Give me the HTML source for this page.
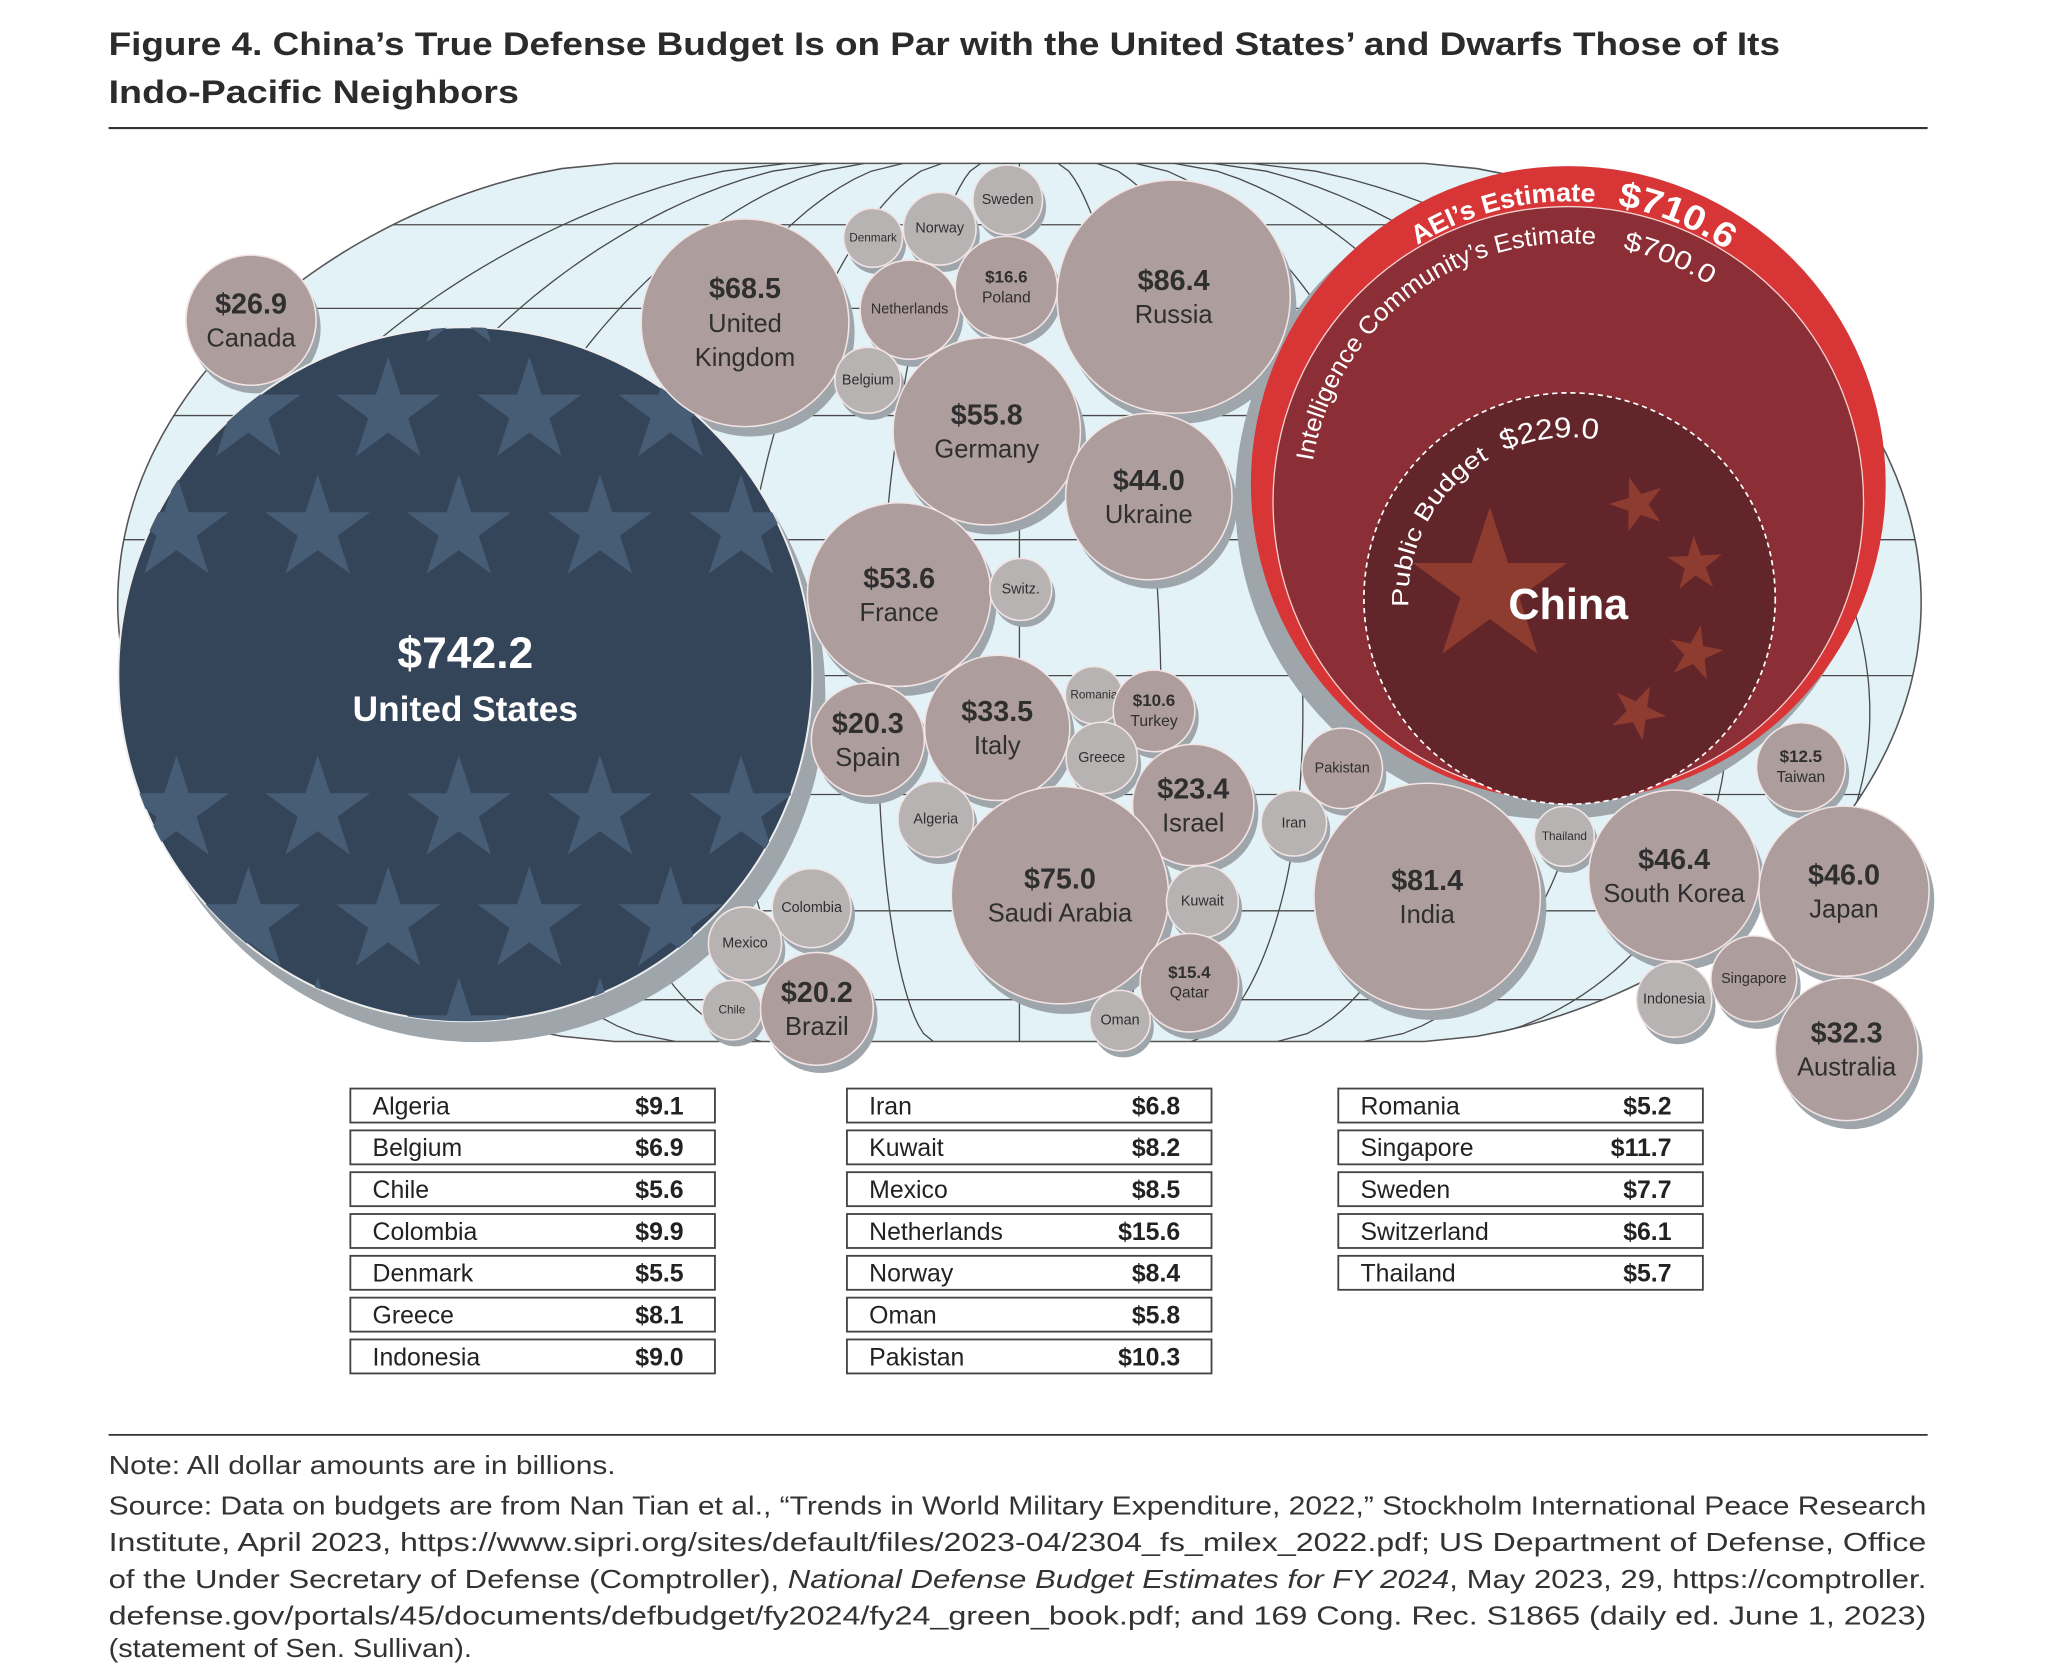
<!DOCTYPE html>
<html><head><meta charset="utf-8"><style>
html,body{margin:0;padding:0;background:#fff;}
svg{display:block;font-family:"Liberation Sans",sans-serif;}
</style></head><body>
<svg id="chart" width="2048" height="1674" viewBox="0 0 1567 1281" xmlns="http://www.w3.org/2000/svg">
<defs>
<clipPath id="mapClip"><path id="mapShapeClip" d=""/></clipPath>
<clipPath id="usClip"><circle id="usClipCircle" cx="0" cy="0" r="0"/></clipPath>
</defs>
<g fill="#2b2b2b" font-weight="bold" font-size="25">
<text x="83" y="42" textLength="1279" lengthAdjust="spacingAndGlyphs">Figure 4. China’s True Defense Budget Is on Par with the United States’ and Dwarfs Those of Its</text>
<text x="83" y="79" textLength="314" lengthAdjust="spacingAndGlyphs">Indo-Pacific Neighbors</text>
</g>
<line x1="83" y1="98" x2="1475" y2="98" stroke="#333" stroke-width="1.6"/>
<g id="map"></g>
<g id="shadows"></g>
<g id="china"></g>
<g id="us"></g>
<g id="bubbles"></g>
<g id="tables"></g>
<line x1="83" y1="1098" x2="1475" y2="1098" stroke="#333" stroke-width="1.4"/>
<g fill="#333" font-size="19.5">
<text x="83" y="1128" textLength="388" lengthAdjust="spacingAndGlyphs">Note: All dollar amounts are in billions.</text>
<text x="83" y="1159" textLength="1391" lengthAdjust="spacingAndGlyphs">Source: Data on budgets are from Nan Tian et al., “Trends in World Military Expenditure, 2022,” Stockholm International Peace Research</text>
<text x="83" y="1187" textLength="1391" lengthAdjust="spacingAndGlyphs">Institute, April 2023, https://www.sipri.org/sites/default/files/2023-04/2304_fs_milex_2022.pdf; US Department of Defense, Office</text>
<text x="83" y="1215" textLength="1391" lengthAdjust="spacingAndGlyphs">of the Under Secretary of Defense (Comptroller), <tspan font-style="italic">National Defense Budget Estimates for FY 2024</tspan>, May 2023, 29, https://comptroller.</text>
<text x="83" y="1243" textLength="1391" lengthAdjust="spacingAndGlyphs">defense.gov/portals/45/documents/defbudget/fy2024/fy24_green_book.pdf; and 169 Cong. Rec. S1865 (daily ed. June 1, 2023)</text>
<text x="83" y="1268" textLength="278" lengthAdjust="spacingAndGlyphs">(statement of Sen. Sullivan).</text>
</g>
</svg>
<script>
// ---- data ----
const countryNames = ["Canada","United Kingdom","Denmark","Norway","Sweden","Netherlands","Poland","Belgium","Russia","Germany","Ukraine","France","Switz.","Spain","Italy","Romania","Turkey","Greece","Algeria","Israel","Saudi Arabia","Kuwait","Qatar","Oman","Iran","Pakistan","India","Thailand","South Korea","Japan","Taiwan","Indonesia","Singapore","Australia","Colombia","Mexico","Chile","Brazil"];
const countryValues = [26.9,68.5,5.5,8.4,7.7,15.6,16.6,6.9,86.4,55.8,44.0,53.6,6.1,20.3,33.5,5.2,10.6,8.1,9.1,23.4,75.0,8.2,15.4,5.8,6.8,10.3,81.4,5.7,46.4,46.0,12.5,9.0,11.7,32.3,9.9,8.5,5.6,20.2];
const showValue = [1,1,0,0,0,0,1,0,1,1,1,1,0,1,1,0,1,0,0,1,1,0,1,0,0,0,1,0,1,1,1,0,0,1,0,0,0,1];
const usValue = 742.2;
const chinaAEI = 710.6;
const chinaIC = 700.0;
const chinaPublic = 229.0;
const tableCol1 = [["Algeria","$9.1"],["Belgium","$6.9"],["Chile","$5.6"],["Colombia","$9.9"],["Denmark","$5.5"],["Greece","$8.1"],["Indonesia","$9.0"]];
const tableCol2 = [["Iran","$6.8"],["Kuwait","$8.2"],["Mexico","$8.5"],["Netherlands","$15.6"],["Norway","$8.4"],["Oman","$5.8"],["Pakistan","$10.3"]];
const tableCol3 = [["Romania","$5.2"],["Singapore","$11.7"],["Sweden","$7.7"],["Switzerland","$6.1"],["Thailand","$5.7"]];
// ---- layout (bubble centres) ----
const layoutCenters = [[192,245],[570,247],[668,182],[719,175],[771,153],[696,237],[770,220],[664,291],[898,227],[755,330],[879,380],[688,455],[781,451],[664,566],[763,557],[837,532],[883,544],[843,580],[716,627],[913,616],[811,685],[920,690],[910,752],[857,781],[990,630],[1027,588],[1092,686],[1197,640],[1281,670],[1411,682],[1378,587],[1281,765],[1342,749],[1413,803],[621,695],[570,722],[560,773],[625,772]];
const NS="http://www.w3.org/2000/svg";
const K=9.6;
function rScale(v){return K*Math.sqrt(v);}
function mk(tag,attrs,parent){const e=document.createElementNS(NS,tag);for(const k in attrs)e.setAttribute(k,attrs[k]);if(parent)parent.appendChild(e);return e;}

// ---- map ----
const map=document.getElementById('map');
const mcx=780, mTop=125, mBot=797, mMid=(mTop+mBot)/2, mH=(mBot-mTop)/2;
function hw(y){const t=(y-mMid)/mH;return 310+380*Math.pow(Math.max(0,1-t*t),0.6);}
const pts=[];
for(let y=mTop;y<=mBot;y+=4)pts.push([mcx+hw(y),y]);
for(let y=mBot;y>=mTop;y-=4)pts.push([mcx-hw(y),y]);
const d="M"+pts.map(p=>p[0].toFixed(1)+","+p[1].toFixed(1)).join("L")+"Z";
document.getElementById('mapShapeClip').setAttribute('d',d);
const bg=mk('path',{d:d,fill:"#e2f2f7",stroke:"#555","stroke-width":1.2},map);


const grid=mk('g',{"clip-path":"url(#mapClip)",stroke:"#4a4a4a","stroke-width":1,fill:"none"},map);


[172,236,318,413,517,608,697,765].forEach(y=>{mk('line',{x1:0,x2:1552,y1:y,y2:y},grid);});
for(let k=-6;k<=6;k++){
  const u=k/6.5;let p="";
  for(let y=mTop;y<=mBot;y+=6){const sh=(y-mMid)*0.35*u;p+=(y===mTop?"M":"L")+(mcx+u*hw(y)+sh).toFixed(1)+","+y;}
  mk('path',{d:p},grid);
}

// ---- shadows & bubbles ----
const shadows=document.getElementById('shadows');
const bubbles=document.getElementById('bubbles');
function shadow(cx,cy,r){mk('circle',{cx:cx+0.03*r+2,cy:cy+0.045*r+4,r:r,fill:"#9ea6ac"},shadows);}
countryNames.forEach((n,i)=>{
  const v=countryValues[i],r=rScale(v),c=layoutCenters[i];
  shadow(c[0],c[1],r);
  const g=mk('g',{},bubbles);
  
  
  mk('circle',{cx:c[0],cy:c[1],r:r,fill:(v>=10?"#ad9d9c":"#b7b3b3"),stroke:"#f2e4e4","stroke-width":1.2},g);
  const big=r>=40;
  if(showValue[i]){
    const vs=big?22:13, ns=big?19.5:12;
    const t1=mk('text',{x:c[0],y:c[1]+(big?-12:-8),"text-anchor":"middle","dominant-baseline":"central","font-size":vs,"font-weight":"bold",fill:"#2f2f2f"},g);
    t1.textContent="$"+v.toFixed(1);
    if(n==="United Kingdom"){
      const a=mk('text',{x:c[0],y:c[1]+1,"text-anchor":"middle","dominant-baseline":"central","font-size":ns,fill:"#2f2f2f"},g);a.textContent="United";
      const b=mk('text',{x:c[0],y:c[1]+27,"text-anchor":"middle","dominant-baseline":"central","font-size":ns,fill:"#2f2f2f"},g);b.textContent="Kingdom";
      t1.setAttribute('y',c[1]-26);
    } else {
      const t2=mk('text',{x:c[0],y:c[1]+(big?14:8),"text-anchor":"middle","dominant-baseline":"central","font-size":ns,fill:"#2f2f2f"},g);
      t2.textContent=n;
    }
  } else {
    const t=mk('text',{x:c[0],y:c[1],"text-anchor":"middle","dominant-baseline":"central","font-size":(r<23?9:11),fill:"#2f2f2f"},g);
    t.textContent=n;
  }
});

function starPath(cx,cy,R,rot){const ri=R*0.382;let p="";for(let i=0;i<10;i++){const a=(rot||0)-Math.PI/2+i*Math.PI/5;const rr=i%2?ri:R;p+=(i?"L":"M")+(cx+rr*Math.cos(a)).toFixed(1)+","+(cy+rr*Math.sin(a)).toFixed(1);}return p+"Z";}

// ---- US ----
const us=document.getElementById('us');
const usR=rScale(usValue)+4, usC=[356,516];
shadow(usC[0],usC[1],usR);
document.getElementById('usClipCircle').setAttribute('cx',usC[0]);
document.getElementById('usClipCircle').setAttribute('cy',usC[1]);
document.getElementById('usClipCircle').setAttribute('r',usR);
const usCircle=mk('circle',{cx:usC[0],cy:usC[1],r:usR,fill:"#354559",stroke:"#eee","stroke-width":1.5},us);


const stars=mk('g',{"clip-path":"url(#usClip)",fill:"#475c75"},us);


const rowA=[135,243,351,459,567], rowB=[82,190,297,405,513,621];
[[228,rowA],[315,rowB],[405,rowA],[620,rowA],[705,rowB],[790,rowA]].forEach(rw=>rw[1].forEach(x=>mk('path',{d:starPath(x,rw[0],42)},stars)));
const usV=mk('text',{x:usC[0],y:500,"text-anchor":"middle","dominant-baseline":"central","font-size":34,"font-weight":"bold",fill:"#fff"},us);usV.textContent="$"+usValue.toFixed(1);


const usN=mk('text',{x:usC[0],y:543,"text-anchor":"middle","dominant-baseline":"central","font-size":27,"font-weight":"bold",fill:"#fff"},us);usN.textContent="United States";



// ---- China ----
const ch=document.getElementById('china');
const icR=8.54*Math.sqrt(chinaIC), aeiR=icR+(chinaAEI-chinaIC)*1.6, pubR=10.4*Math.sqrt(chinaPublic);
const aeiC=[1200,370], icC=[1200,384], pubC=[1201,458];
mk('circle',{cx:aeiC[0]-10,cy:aeiC[1]+12,r:aeiR+2,fill:"#9ea6ac"},ch);
const aei=mk('circle',{cx:aeiC[0],cy:aeiC[1],r:aeiR,fill:"#d83536"},ch);


const ic=mk('circle',{cx:icC[0],cy:icC[1],r:icR,fill:"#8b2e36",stroke:"#f4d0d0","stroke-width":1},ch);


const pub=mk('circle',{cx:pubC[0],cy:pubC[1],r:pubR,fill:"#62262a",stroke:"#fff","stroke-width":1.3,"stroke-dasharray":"4 3"},ch);


const cst=mk('g',{fill:"#8e3b30"},ch);


mk('path',{d:starPath(1140,450,62)},cst);
[[1253,386,-0.3],[1297,432,-0.05],[1297,500,0.2],[1253,545,0.45]].forEach(s=>mk('path',{d:starPath(s[0],s[1],22,s[2])},cst));
const chT=mk('text',{x:1200,y:463,"text-anchor":"middle","dominant-baseline":"central","font-size":33,"font-weight":"bold",fill:"#fff"},ch);chT.textContent="China";


const defs=document.querySelector('defs');
function arcPath(id,c,r,startDeg){const a=startDeg*Math.PI/180;const x0=c[0]+r*Math.cos(a),y0=c[1]-r*Math.sin(a);mk('path',{id:id,d:`M${x0},${y0} A${r},${r} 0 ${startDeg>180?1:0} 1 ${c[0]+r},${c[1]}`},defs);return r*startDeg*Math.PI/180;}
function arcText(pathId,total,f0,f1,txt,size,weight,name){
  const t=mk('text',{"font-size":size,"font-weight":weight,fill:"#fff"},ch);
  
  
  const tp=mk('textPath',{href:"#"+pathId,startOffset:(f0*total).toFixed(1),textLength:((f1-f0)*total).toFixed(1),lengthAdjust:"spacingAndGlyphs"},t);
  tp.textContent=txt;
}
const L1=arcPath('arcAEI',aeiC,aeiR-27,180);
arcText('arcAEI',L1,0.32,0.53,"AEI’s Estimate",20,"bold",'aei-estimate-label');
arcText('arcAEI',L1,0.555,0.69,"$"+chinaAEI.toFixed(1),27,"bold",'aei-estimate-value');
const L2=arcPath('arcIC',icC,icR-28,180);
arcText('arcIC',L2,0.05,0.533,"Intelligence Community’s Estimate",19,"normal",'ic-estimate-label');
arcText('arcIC',L2,0.567,0.683,"$"+chinaIC.toFixed(1),20,"normal",'ic-estimate-value');
const L3=arcPath('arcPub',pubC,pubR-34,200);
arcText('arcPub',L3,0.085,0.40,"Public Budget",18,"normal",'public-budget-label');
arcText('arcPub',L3,0.43,0.60,"$"+chinaPublic.toFixed(1),22,"normal",'public-budget-value');

// ---- tables ----
const tables=document.getElementById('tables');
function table(rows,x0,name){
  const g=mk('g',{},tables);
  
  
  rows.forEach((r,i)=>{
    const y=833+i*32;
    const row=mk('g',{},g);
    
    
    mk('rect',{x:x0,y:y,width:279,height:26,fill:"#fff",stroke:"#444","stroke-width":1.4},row);
    const a=mk('text',{x:x0+17,y:y+14,"dominant-baseline":"central","font-size":19,fill:"#222"},row);a.textContent=r[0];
    const b=mk('text',{x:x0+255,y:y+14,"text-anchor":"end","dominant-baseline":"central","font-size":19,"font-weight":"bold",fill:"#222"},row);b.textContent=r[1];
  });
}
table(tableCol1,268,'table-column-1');
table(tableCol2,648,'table-column-2');
table(tableCol3,1024,'table-column-3');
</script>
</body></html>
